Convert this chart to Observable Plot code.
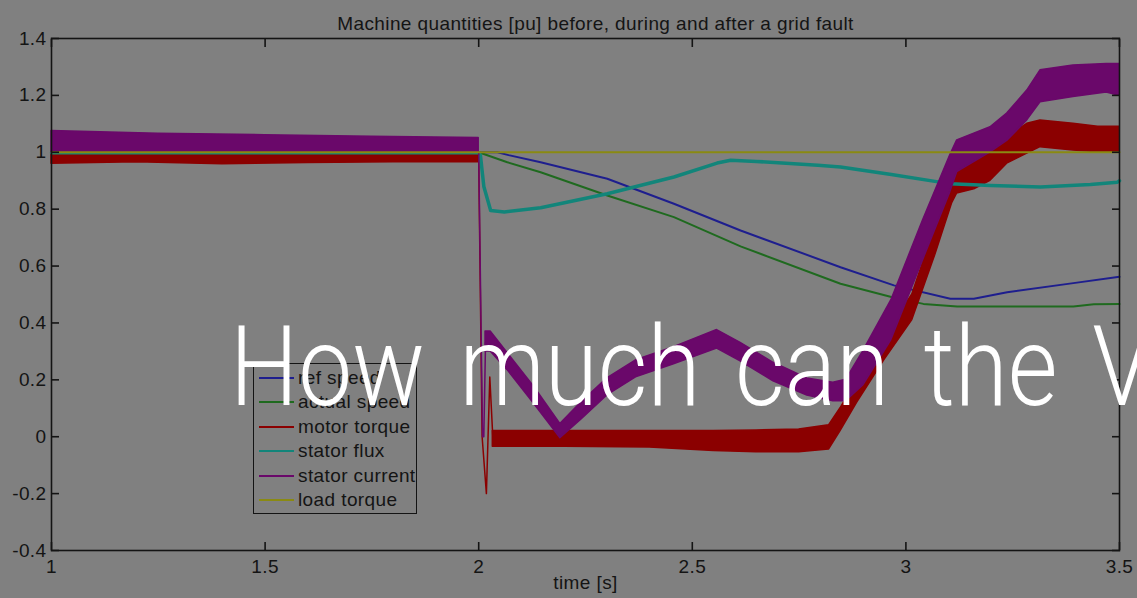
<!DOCTYPE html>
<html><head><meta charset="utf-8">
<script src="https://cdn.jsdelivr.net/npm/d3@7"></script>
<script src="https://cdn.jsdelivr.net/npm/@observablehq/plot@0.6"></script>
<style>
html,body{margin:0;padding:0;background:#808080;}
#wrap{position:relative;width:1137px;height:598px;overflow:hidden;background:#808080;}
#legend{position:absolute;left:253px;top:363px;width:162px;height:149px;border:1.5px solid #141414;background:#808080;font-family:"Liberation Sans",Arial,sans-serif;font-size:19px;letter-spacing:0.4px;color:#141414;}
#legend .row{position:absolute;left:0;height:24px;line-height:24px;white-space:nowrap;}
#legend .sw{position:absolute;left:5px;top:11px;width:35px;height:2px;}
#legend .lab{position:absolute;left:44px;top:0;}
#overlay{position:absolute;left:0;top:0;pointer-events:none;}
</style></head><body><div id="wrap"></div><script>
// ---- text ----
const chartTitle = "Machine quantities [pu] before, during and after a grid fault";
const xAxisLabel = "time [s]";
const overlayText = "How much can the V";
const seriesNames = ["ref speed","actual speed","motor torque","stator flux","stator current","load torque"];
const seriesColors = ["#1e1e8e","#1f6a1f","#8b0000","#12857a","#6a086a","#8a8a12"];

// ---- ticks ----
const xTicks = [1, 1.5, 2, 2.5, 3, 3.5];
const xTickLabels = ["1","1.5","2","2.5","3","3.5"];
const yTicks = [-0.4, -0.2, 0, 0.2, 0.4, 0.6, 0.8, 1, 1.2, 1.4];
const yTickLabels = ["-0.4","-0.2","0","0.2","0.4","0.6","0.8","1","1.2","1.4"];

// ---- ref speed ----
const refSpeedT = [1, 2.0, 2.044, 2.07, 2.145, 2.301, 2.457, 2.613, 2.847, 2.972, 3.104, 3.159, 3.237, 3.392, 3.5];
const refSpeedV = [1, 1, 1.0, 0.99, 0.965, 0.907, 0.819, 0.725, 0.596, 0.532, 0.485, 0.485, 0.508, 0.54, 0.562];

// ---- actual speed ----
const actualSpeedT = [1, 2.0, 2.067, 2.145, 2.301, 2.457, 2.613, 2.847, 2.966, 3.041, 3.12, 3.392, 3.44, 3.5];
const actualSpeedV = [1, 1, 0.965, 0.93, 0.848, 0.772, 0.669, 0.538, 0.491, 0.467, 0.458, 0.458, 0.466, 0.467];

// ---- motor torque (noisy band: low / high envelope) ----
const torqueT  = [1, 1.2, 1.4, 1.6, 1.8, 2.0, 2.01, 2.033, 2.2, 2.4, 2.55, 2.65, 2.75, 2.82, 2.847, 2.886, 2.95, 3.015, 3.069, 3.108, 3.12, 3.16, 3.198, 3.237, 3.284, 3.315, 3.392, 3.45, 3.5];
const torqueLo = [0.96, 0.965, 0.958, 0.962, 0.965, 0.965, NaN, -0.035, -0.035, -0.038, -0.05, -0.055, -0.055, -0.045, 0.02, 0.12, 0.27, 0.41, 0.64, 0.82, 0.855, 0.87, 0.9, 0.96, 0.995, 1.018, 1.006, 1.0, 1.0];
const torqueHi = [1.0, 1.0, 1.0, 1.0, 1.0, 1.0, NaN, 0.02, 0.02, 0.02, 0.02, 0.022, 0.025, 0.04, 0.1, 0.2, 0.35, 0.5, 0.74, 0.91, 0.96, 0.99, 1.018, 1.053, 1.10, 1.112, 1.10, 1.09, 1.09];
// fault transient of motor torque
const torqueSpikeT = [2.0, 2.008, 2.018, 2.026, 2.033];
const torqueSpikeV = [0.98, 0.0, -0.2, 0.21, 0.0];

// ---- stator flux ----
const fluxT = [1, 1.5, 2.0, 2.004, 2.012, 2.028, 2.06, 2.145, 2.301, 2.457, 2.558, 2.59, 2.65, 2.794, 2.847, 2.966, 3.079, 3.104, 3.198, 3.315, 3.432, 3.495, 3.5];
const fluxV = [0.998, 0.998, 0.998, 0.99, 0.88, 0.795, 0.79, 0.805, 0.854, 0.913, 0.962, 0.972, 0.968, 0.954, 0.948, 0.922, 0.895, 0.889, 0.883, 0.878, 0.887, 0.895, 0.9];

// ---- stator current (noisy band: low / high envelope) ----
const currentT  = [1, 1.25, 1.5, 1.75, 2.0, 2.01, 2.016, 2.028, 2.067, 2.13, 2.191, 2.24, 2.301, 2.37, 2.457, 2.558, 2.613, 2.69, 2.769, 2.83, 2.86, 2.9, 2.966, 3.04, 3.104, 3.12, 3.198, 3.237, 3.284, 3.315, 3.392, 3.47, 3.495, 3.5];
const currentLo = [1.0, 1.0, 1.0, 1.0, 1.0, NaN, 0.30, 0.30, 0.235, 0.115, -0.005, 0.06, 0.145, 0.21, 0.255, 0.31, 0.265, 0.195, 0.145, 0.125, 0.125, 0.18, 0.34, 0.62, 0.86, 0.93, 1.0, 1.04, 1.112, 1.176, 1.194, 1.21, 1.2, 1.2];
const currentHi = [1.075, 1.065, 1.06, 1.055, 1.05, NaN, 0.37, 0.37, 0.295, 0.175, 0.045, 0.12, 0.205, 0.27, 0.315, 0.375, 0.33, 0.26, 0.205, 0.19, 0.2, 0.3, 0.48, 0.76, 0.99, 1.042, 1.088, 1.136, 1.217, 1.288, 1.305, 1.31, 1.31, 1.31];
// fault transient of stator current
const currentSpikeT = [2.0, 2.009, 2.012, 2.016];
const currentSpikeV = [1.0, 0.0, 0.0, 0.33];

// ---- load torque ----
const loadT = [1, 3.5];
const loadV = [1, 1];

// ---- build tables ----
const pts = (T, V) => T.map((t, i) => ({t, v: V[i]}));
const band = (T, L, H) => T.map((t, i) => ({t, lo: L[i], hi: H[i]}));

const axisColor = "#141414";
const font = "'Liberation Sans', Arial, sans-serif";

const plot = Plot.plot({
  width: 1137, height: 598,
  marginLeft: 51, marginRight: 18, marginTop: 38, marginBottom: 48,
  style: {background: "#808080", fontFamily: font, fontSize: "19px", color: axisColor, letterSpacing: "0.4px"},
  x: {domain: [1, 3.5], label: null},
  y: {domain: [-0.4, 1.4], label: null},
  marks: [
    Plot.line(pts(refSpeedT, refSpeedV), {x: "t", y: "v", stroke: seriesColors[0], strokeWidth: 2}),
    Plot.line(pts(actualSpeedT, actualSpeedV), {x: "t", y: "v", stroke: seriesColors[1], strokeWidth: 2}),
    Plot.areaY(band(torqueT, torqueLo, torqueHi), {x: "t", y1: "lo", y2: "hi", fill: seriesColors[2], stroke: seriesColors[2], strokeWidth: 1.5}),
    Plot.line(pts(torqueSpikeT, torqueSpikeV), {x: "t", y: "v", stroke: seriesColors[2], strokeWidth: 1.5}),
    Plot.line(pts(fluxT, fluxV), {x: "t", y: "v", stroke: seriesColors[3], strokeWidth: 3.5}),
    Plot.areaY(band(currentT, currentLo, currentHi), {x: "t", y1: "lo", y2: "hi", fill: seriesColors[4], stroke: seriesColors[4], strokeWidth: 1.5}),
    Plot.line(pts(currentSpikeT, currentSpikeV), {x: "t", y: "v", stroke: seriesColors[4], strokeWidth: 1.5}),
    Plot.line(pts(loadT, loadV), {x: "t", y: "v", stroke: seriesColors[5], strokeWidth: 2}),
    Plot.frame({stroke: axisColor, strokeWidth: 1.6}),
    // inward ticks on all four sides
    Plot.axisX(xTicks, {anchor: "bottom", tickSize: -8, fill: "none", stroke: axisColor, strokeWidth: 1.6, label: null}),
    Plot.axisX(xTicks, {anchor: "top", tickSize: -8, fill: "none", stroke: axisColor, strokeWidth: 1.6, label: null}),
    Plot.axisY(yTicks, {anchor: "left", tickSize: -8, fill: "none", stroke: axisColor, strokeWidth: 1.6, label: null}),
    Plot.axisY(yTicks, {anchor: "right", tickSize: -8, fill: "none", stroke: axisColor, strokeWidth: 1.6, label: null}),
    // tick labels
    Plot.axisX(xTicks, {anchor: "bottom", tickSize: 0, tickPadding: 9, tickFormat: d => xTickLabels[xTicks.indexOf(d)], label: null}),
    Plot.axisY(yTicks, {anchor: "left", tickSize: 0, tickPadding: 5, tickFormat: d => yTickLabels[yTicks.indexOf(d)], label: null}),
    Plot.text([chartTitle], {frameAnchor: "top", dx: 10, dy: -22, text: d => d, fill: axisColor}),
    Plot.text([xAxisLabel], {frameAnchor: "bottom", dy: 38, text: d => d, fill: axisColor})
  ]
});

const wrap = document.getElementById("wrap");
wrap.appendChild(plot);

// legend
const legend = document.createElement("div");
legend.id = "legend";
seriesNames.forEach((name, i) => {
  const row = document.createElement("div");
  row.className = "row";
  row.style.top = (2 + i * 24.4) + "px";
  row.style.width = "160px";
  const sw = document.createElement("div");
  sw.className = "sw";
  sw.style.background = seriesColors[i];
  const lab = document.createElement("span");
  lab.className = "lab";
  lab.textContent = name;
  row.appendChild(sw); row.appendChild(lab);
  legend.appendChild(row);
});
wrap.appendChild(legend);

// overlay headline
const ns = "http://www.w3.org/2000/svg";
const ov = document.createElementNS(ns, "svg");
ov.setAttribute("id", "overlay");
ov.setAttribute("width", 1137); ov.setAttribute("height", 598);
const tx = document.createElementNS(ns, "text");
tx.setAttribute("transform", "translate(230,405) scale(0.86,1)");
tx.setAttribute("fill", "#ffffff");
tx.setAttribute("font-family", "Roboto, sans-serif");
tx.setAttribute("font-weight", "300");
tx.setAttribute("font-size", "112");
tx.setAttribute("word-spacing", "13");
tx.textContent = overlayText;
ov.appendChild(tx);
wrap.appendChild(ov);
</script></body></html>
